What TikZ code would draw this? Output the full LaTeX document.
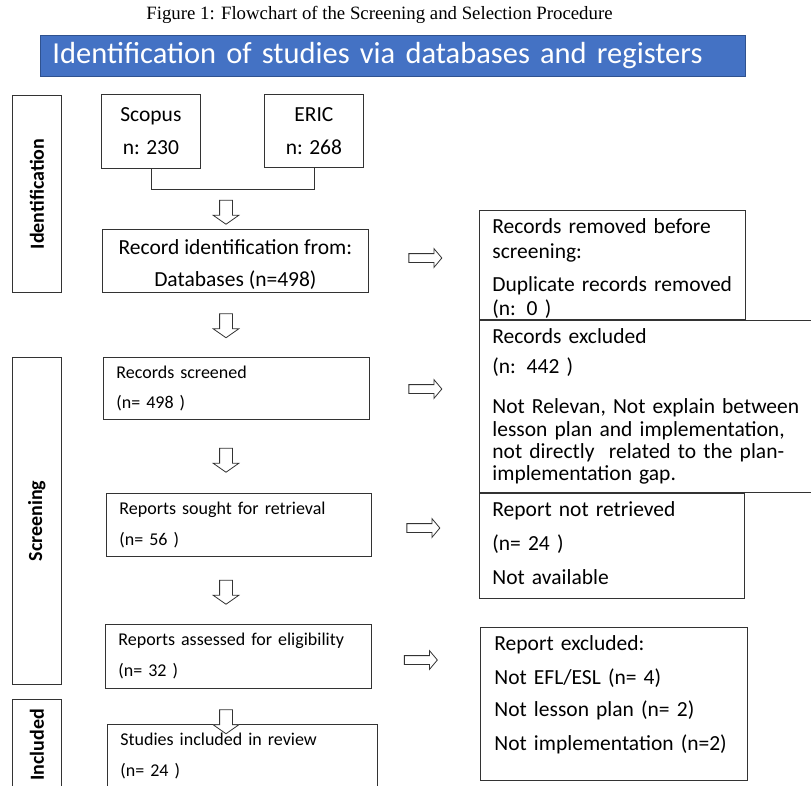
\documentclass[tikz,border=0pt]{standalone}
\usepackage{fontspec}
\usepackage{graphicx}
\setmainfont{Carlito}
\newfontfamily\titlefont{Liberation Serif}
\usetikzlibrary{shapes.arrows}
\definecolor{bannerblue}{HTML}{4472C4}
\definecolor{bannerline}{HTML}{2F528F}

\tikzset{
  box/.style={draw=black!80, line width=0.8pt, anchor=north west, inner sep=0pt},
  leftbox/.style={box, align=left, inner xsep=13pt, font=\fontsize{21.5}{24}\selectfont},
  smallbox/.style={box, align=left, inner xsep=13pt, font=\fontsize{18}{20}\selectfont},
  midbox/.style={box, align=center, font=\fontsize{21.5}{24}\selectfont},
  sidebox/.style={box, font=\bfseries\fontsize{20}{24}\selectfont},
  blockarrow/.style={draw=black!80, fill=white, line width=0.8pt, single arrow, inner xsep=0pt},
  downarrow/.style={blockarrow, rotate=-90, inner ysep=6pt, minimum height=24pt,
    single arrow head extend=6.5pt, single arrow tip angle=110},
  rightarrow/.style={blockarrow, inner ysep=4pt, minimum height=33pt,
    single arrow head extend=5pt, single arrow tip angle=100}
}

\begin{document}
\begin{tikzpicture}[x=1pt, y=-1pt]
    \useasboundingbox (0,0) rectangle (811,785);

    % title and banner
    \node (title) at (379.5,15) {\titlefont\fontsize{18.8}{20}\selectfont Figure 1: Flowchart of the Screening and Selection Procedure};
    \node (banner) [fill=bannerblue, draw=bannerline, line width=0.8pt, anchor=north west, minimum width=705pt, minimum height=41pt, text width=681pt, inner xsep=12pt, inner ysep=0pt, align=left, text=white, font=\fontsize{30.5}{34}\selectfont] at (40,35) {Identification of studies via databases and registers};

    % phase labels
    \node (identside) [sidebox, minimum width=49pt, minimum height=197pt] at (12,95) {\rotatebox{90}{Identification}};
    \node (screenside) [sidebox, minimum width=49pt, minimum height=327pt] at (12,357) {\rotatebox{90}{Screening}};
    \node (inclside) [sidebox, minimum width=49pt, minimum height=91pt] at (12,699) {\rotatebox{90}{Included}};

    % identification
    \node (scopus) [midbox, minimum width=99pt, minimum height=74pt] at (101,94) {Scopus\\[9pt]n: 230};
    \node (eric) [midbox, minimum width=99pt, minimum height=73pt] at (264,94) {ERIC\\[9pt]n: 268};
    \node (recid) [midbox, minimum width=266pt, minimum height=63pt, text height=55pt] at (102,229) {Record identification from:\\[8pt]Databases (n=498)};
    \node (removed) [leftbox, text width=240pt, minimum height=109pt, text height=22pt] at (479,210) {Records removed before\\[1pt]screening:\\[9pt]Duplicate records removed\\(n: 0 )};

    % screening
    \node (screened) [smallbox, text width=240pt, minimum height=62pt] at (103,357) {Records screened\\[10pt](n= 498 )};
    \node (excluded) [leftbox, font=\fontsize{21.5}{22.3}\selectfont, text width=325pt, minimum height=172pt] at (479,320) {Records excluded\\[8pt](n: 442 )\\[18pt]Not Relevan, Not explain between\\lesson plan and implementation,\\not directly\ \ related to the plan-\\implementation gap.};
    \node (sought) [smallbox, text width=239pt, minimum height=63pt] at (106,493) {Reports sought for retrieval\\[11pt](n= 56 )};
    \node (notretr) [leftbox, text width=239pt, minimum height=105pt, text depth=73pt] at (479,493) {Report not retrieved\\[10pt](n= 24 )\\[10pt]Not available};
    \node (assessed) [smallbox, text width=240pt, minimum height=64pt] at (105,624) {Reports assessed for eligibility\\[11pt](n= 32 )};
    \node (repexcl) [leftbox, inner xsep=14pt, text width=239pt, minimum height=153pt, text depth=121pt] at (480,627) {Report excluded:\\[10pt]Not EFL/ESL (n= 4)\\[8pt]Not lesson plan (n= 2)\\[10pt]Not implementation (n=2)};

    % included
    \node (studies) [smallbox, text width=244pt, minimum height=63pt] at (107,724) {Studies included in review\\[11pt](n= 24 )};

    % merge of the two databases
    \draw[draw=black!80, line width=0.8pt] (scopus.south) -- ++(0,21) -| (eric.south);

    % block arrows
    \node (down1) [downarrow] at (226,210) {};
    \node (down2) [downarrow] at (226,323.5) {};
    \node (down3) [downarrow] at (226,458) {};
    \node (down4) [downarrow] at (226,590) {};
    \node (down5) [downarrow] at (226,719.5) {};
    \node (right1) [rightarrow] at (423.5,258) {};
    \node (right2) [rightarrow] at (423.5,389) {};
    \node (right3) [rightarrow] at (421.5,528) {};
    \node (right4) [rightarrow] at (419,660) {};
\end{tikzpicture}
\end{document}
